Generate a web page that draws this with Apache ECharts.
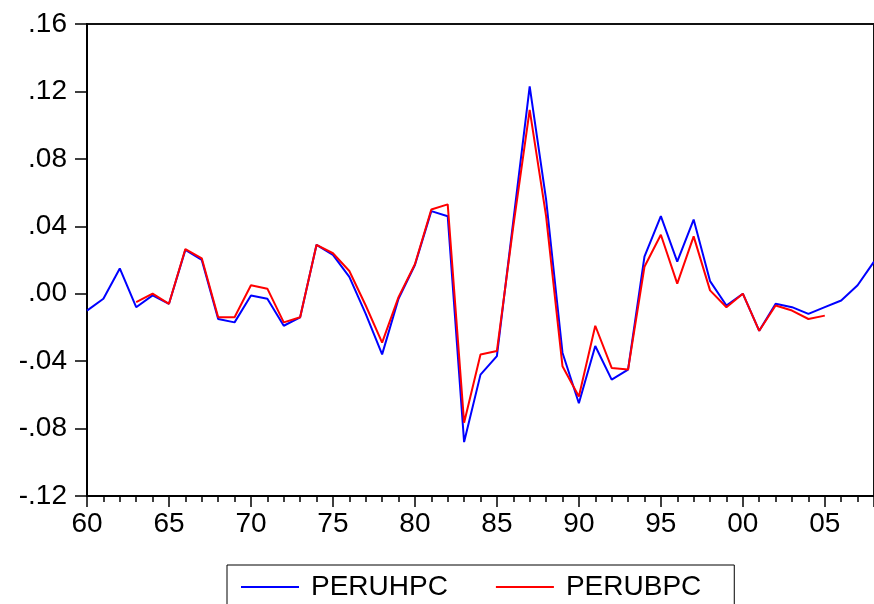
<!DOCTYPE html>
<html>
<head>
<meta charset="utf-8">
<title>PERUHPC vs PERUBPC</title>
<script src="https://cdn.jsdelivr.net/npm/echarts@6/dist/echarts.min.js"></script>
<style>
  html, body { margin: 0; padding: 0; background: #fff; }
  #chart { width: 874px; height: 604px; }
</style>
</head>
<body>
<div id="chart"></div>
<script>
// Years on the horizontal axis
const hpYears = [
  1960, 1961, 1962, 1963, 1964, 1965, 1966, 1967, 1968, 1969,
  1970, 1971, 1972, 1973, 1974, 1975, 1976, 1977, 1978, 1979,
  1980, 1981, 1982, 1983, 1984, 1985, 1986, 1987, 1988, 1989,
  1990, 1991, 1992, 1993, 1994, 1995, 1996, 1997, 1998, 1999,
  2000, 2001, 2002, 2003, 2004, 2005, 2006, 2007, 2008
];
// PERUHPC cyclical component
const peruHPC = [
  -0.010, -0.003, 0.015, -0.008, -0.001, -0.006, 0.026, 0.020, -0.015, -0.017,
  -0.001, -0.003, -0.019, -0.014, 0.029, 0.023, 0.010, -0.012, -0.036, -0.003,
  0.017, 0.049, 0.046, -0.088, -0.048, -0.037, 0.043, 0.123, 0.056, -0.035,
  -0.065, -0.031, -0.051, -0.045, 0.022, 0.046, 0.019, 0.044, 0.0075, -0.007,
  0.000, -0.022, -0.006, -0.008, -0.012, -0.008, -0.004, 0.005, 0.019
];
// PERUBPC covers a shorter span
const bpYears = [
  1963, 1964, 1965, 1966, 1967, 1968, 1969,
  1970, 1971, 1972, 1973, 1974, 1975, 1976, 1977, 1978, 1979,
  1980, 1981, 1982, 1983, 1984, 1985, 1986, 1987, 1988, 1989,
  1990, 1991, 1992, 1993, 1994, 1995, 1996, 1997, 1998, 1999,
  2000, 2001, 2002, 2003, 2004, 2005
];
const peruBPC = [
  -0.005, 0.000, -0.006, 0.0265, 0.021, -0.014, -0.014,
  0.005, 0.003, -0.017, -0.014, 0.029, 0.024, 0.0135, -0.007, -0.029, -0.002,
  0.0175, 0.050, 0.053, -0.0765, -0.036, -0.034, 0.040, 0.109, 0.046, -0.043,
  -0.061, -0.019, -0.044, -0.045, 0.016, 0.035, 0.006, 0.034, 0.002, -0.008,
  0.000, -0.022, -0.007, -0.010, -0.015, -0.013
];
const seriesNames = ['PERUHPC', 'PERUBPC'];
const yTicks = { min: -0.12, max: 0.16, step: 0.04 };
const xTicks = { min: 1960, max: 2008, step: 5 };

const pair = (xs, ys) => xs.map((x, i) => [x, ys[i]]);
const font = 'Liberation Sans, Arial, sans-serif';

const chart = echarts.init(document.getElementById('chart'), null, { renderer: 'canvas' });
chart.setOption({
  animation: false,
  backgroundColor: '#ffffff',
  grid: {
    left: 87, right: -2, top: 24, bottom: 108,
    show: true, borderColor: '#111', borderWidth: 2, backgroundColor: 'transparent'
  },
  xAxis: {
    type: 'value',
    min: xTicks.min, max: xTicks.max, interval: xTicks.step,
    axisLine: { onZero: false, lineStyle: { color: '#000', width: 2 } },
    axisTick: { show: true, length: 11, lineStyle: { color: '#000', width: 1.5 } },
    minorTick: { show: true, splitNumber: 5, length: 6, lineStyle: { color: '#000', width: 1.5 } },
    splitLine: { show: false },
    axisLabel: {
      color: '#000', fontFamily: font, fontSize: 28, margin: 14,
      showMaxLabel: false,
      formatter: v => String(Math.round(v) % 100).padStart(2, '0')
    }
  },
  yAxis: {
    type: 'value',
    min: yTicks.min, max: yTicks.max, interval: yTicks.step,
    axisLine: { show: true, onZero: false, lineStyle: { color: '#000', width: 2 } },
    axisTick: { show: true, length: 12, lineStyle: { color: '#000', width: 1.5 } },
    splitLine: { show: false },
    axisLabel: {
      color: '#000', fontFamily: font, fontSize: 28, margin: 20,
      formatter: v => {
        const s = (Math.round(v * 100) / 100).toFixed(2);
        return s.replace(/^(-?)0\./, '$1.');
      }
    }
  },
  legend: {
    left: 227, top: 565,
    orient: 'horizontal',
    padding: [8, 33, 30, 14],
    borderColor: '#000', borderWidth: 1,
    itemWidth: 58, itemHeight: 2, itemGap: 48,
    icon: 'rect',
    textStyle: { color: '#000', fontFamily: font, fontSize: 28, padding: [0, 0, 0, 7] },
    data: seriesNames
  },
  series: [
    {
      name: seriesNames[0], type: 'line', data: pair(hpYears, peruHPC),
      symbol: 'none', color: '#0000ff',
      lineStyle: { color: '#0000ff', width: 2 }, z: 2
    },
    {
      name: seriesNames[1], type: 'line', data: pair(bpYears, peruBPC),
      symbol: 'none', color: '#ff0000',
      lineStyle: { color: '#ff0000', width: 2 }, z: 3
    }
  ]
});
</script>
</body>
</html>
